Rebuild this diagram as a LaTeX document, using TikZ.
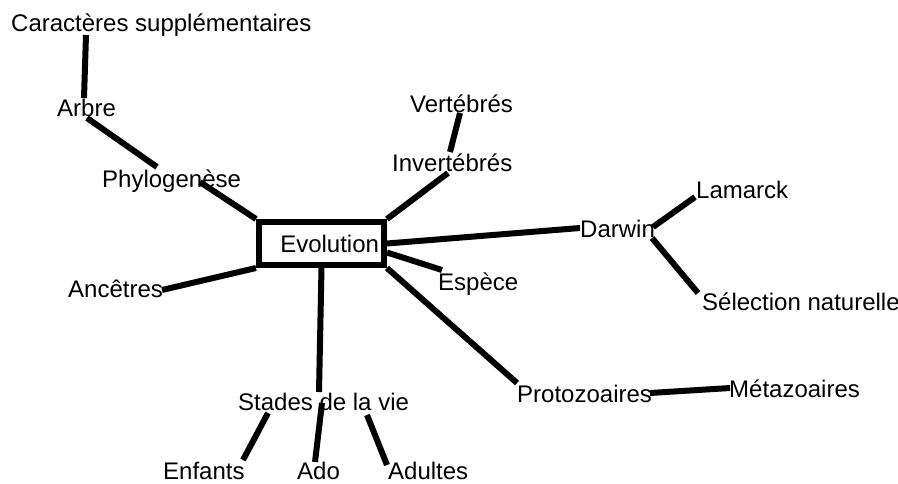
\documentclass[tikz,border=0pt]{standalone}
\usepackage{fontspec}
\setmainfont{Liberation Sans}
\begin{document}
\begin{tikzpicture}[x=1pt, y=-1pt,
        lbl/.style={anchor=base west, inner sep=0pt, font=\fontsize{24}{28}\selectfont},
        branch/.style={line width=6pt}]
        \useasboundingbox (0,0) rectangle (898,483);

        % centre
        \node[draw, line width=6pt, minimum width=125pt, minimum height=43pt,
              inner xsep=5pt, text width=115pt, align=right,
              font=\fontsize{24}{28}\selectfont] (evo) at (321.5,243.5) {Evolution};

        % left side
        \node[lbl] (car) at (11,31) {Caractères supplémentaires};
        \node[lbl] (arbre) at (57,116) {Arbre};
        \node[lbl] (phylo) at (102,187) {Phylogenèse};
        \node[lbl] (anc) at (68,297) {Ancêtres};

        % top and right side
        \node[lbl] (vert) at (410,112) {Vertébrés};
        \node[lbl] (invert) at (392,171) {Invertébrés};
        \node[lbl] (darwin) at (580,237) {Darwin};
        \node[lbl] (lamarck) at (696,198) {Lamarck};
        \node[lbl] (select) at (702,310) {Sélection naturelle};
        \node[lbl] (espece) at (438,290) {Espèce};
        \node[lbl] (proto) at (517,402) {Protozoaires};
        \node[lbl] (meta) at (729,397) {Métazoaires};

        % bottom
        \node[lbl] (stades) at (238,410) {Stades de la vie};
        \node[lbl] (enfants) at (163,479) {Enfants};
        \node[lbl] (ado) at (297,479) {Ado};
        \node[lbl] (adultes) at (388,479) {Adultes};

        % phylogeny branch
        \draw[branch] ([shift={(75,4)}]car.base west) -- ([shift={(27,-18)}]arbre.base west);
        \draw[branch] ([shift={(30,2)}]arbre.base west) -- ([shift={(55,-20)}]phylo.base west);
        \draw[branch] ([shift={(98,-5)}]phylo.base west) -- (evo.north west);
        \draw[branch] ([shift={(94,-7)}]anc.base west) -- (evo.south west);

        % animals
        \draw[branch] ([shift={(50,1)}]vert.base west) -- ([shift={(58,-19)}]invert.base west);
        \draw[branch] ([shift={(56,2)}]invert.base west) -- (evo.north east);

        % theories
        \draw[branch] (evo.east) -- ([shift={(0,-9)}]darwin.base west);
        \draw[branch] ([shift={(73,-10)}]darwin.base west) -- ([shift={(-1,-1)}]lamarck.base west);
        \draw[branch] ([shift={(72,1)}]darwin.base west) -- ([shift={(-4,-17)}]select.base west);

        % species
        \draw[branch] ([shift={(0,9)}]evo.east) -- ([shift={(4,-20)}]espece.base west);
        \draw[branch] (evo.south east) -- ([shift={(0,-19)}]proto.base west);
        \draw[branch] ([shift={(133,-9)}]proto.base west) -- ([shift={(1,-9)}]meta.base west);

        % life stages
        \draw[branch] (evo.south) -- ([shift={(81,-18)}]stades.base west);
        \draw[branch] ([shift={(30,3)}]stades.base west) -- ([shift={(80,-19)}]enfants.base west);
        \draw[branch] ([shift={(84,-7)}]stades.base west) -- ([shift={(18,-17)}]ado.base west);
        \draw[branch] ([shift={(129,5)}]stades.base west) -- ([shift={(-1,-14)}]adultes.base west);
    \end{tikzpicture}
\end{document}
